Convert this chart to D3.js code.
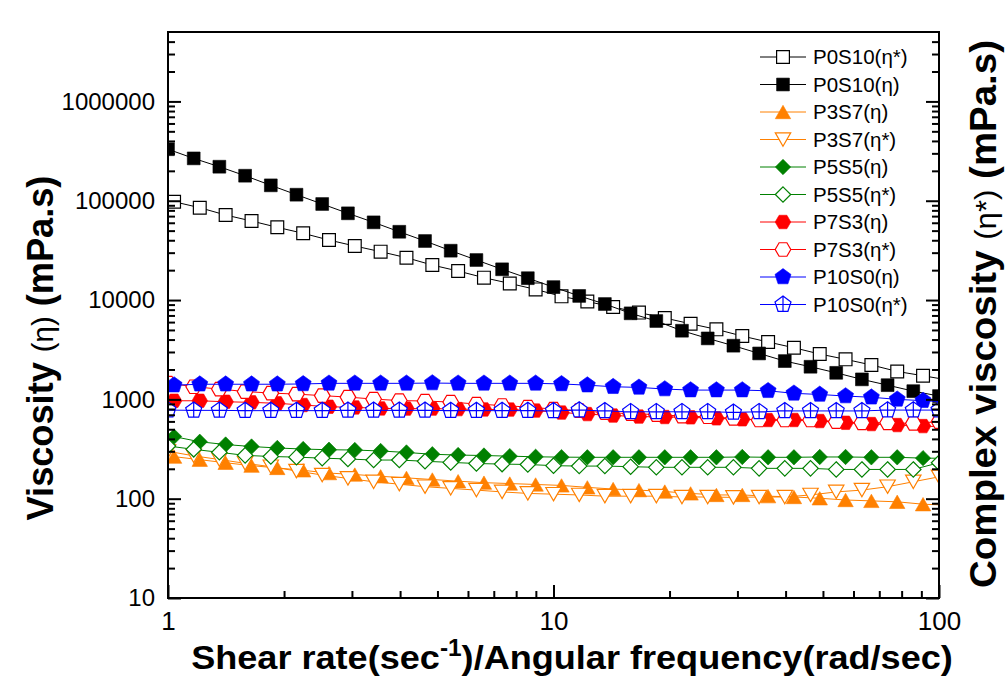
<!DOCTYPE html>
<html>
<head>
<meta charset="utf-8">
<script src="https://cdn.jsdelivr.net/npm/d3@7"></script>
<style>
  html, body { margin: 0; padding: 0; background: #fff; }
  svg { display: block; font-family: Arial, "Liberation Sans", sans-serif; }
</style>
</head>
<body>
<svg id="chart" width="1005" height="676"></svg>
<script>
// rates (1/s or rad/s), two sweeps that are slightly offset
const rateA = [1, 1.166, 1.359, 1.585, 1.848, 2.154, 2.512, 2.929, 3.415, 3.981, 4.642, 5.412, 6.31, 7.356, 8.577,
  10, 11.66, 13.59, 15.85, 18.48, 21.54, 25.12, 29.29, 34.15, 39.81, 46.42, 54.12, 63.1, 73.56, 85.77, 100];
const rateB = [1.037, 1.209, 1.411, 1.647, 1.921, 2.242, 2.616, 3.052, 3.561, 4.155, 4.849, 5.657, 6.601, 7.702, 8.987,
  10.49, 12.24, 14.28, 16.66, 19.44, 22.68, 26.46, 30.88, 36.03, 42.04, 49.05, 57.23, 66.77, 77.91, 90.91, 106.1];

// viscosities in mPa.s
const p0s10Star = [97700, 85100, 71800, 62500, 54000, 47000, 40200, 35000, 30700, 26700, 22500, 19600, 16800, 14700, 12800,
  10900, 9660, 8510, 7480, 6590, 5770, 5070, 4340, 3780, 3310, 2860, 2530, 2220, 1910, 1730, 1560];
const p0s10Eta = [330000, 267000, 220000, 178600, 142900, 115000, 92700, 74700, 60600, 48700, 39300, 31400, 25300, 20400, 16600,
  13500, 11000, 9120, 7350, 6150, 4910, 4110, 3470, 2900, 2430, 2130, 1850, 1590, 1390, 1210, 1080];
const p3s7Eta = [265, 247, 230, 215, 204, 193, 181, 175, 168, 162, 156, 150, 145, 142, 139,
  136, 130, 125, 122, 118, 113, 109, 109, 106, 104, 101, 97, 95, 93, 88, 86];
const p3s7Star = [300, 270, 248, 227, 210, 190, 173, 160, 148, 140, 132, 127, 122, 117, 113,
  111, 109, 106, 106, 106, 104, 104, 103, 104, 104, 109, 117, 122, 132, 148, 166];
const p5s5Eta = [422, 374, 351, 335, 324, 316, 311, 309, 302, 292, 280, 275, 272, 268, 264,
  262, 261, 261, 261, 261, 261, 261, 263, 261, 261, 263, 263, 261, 261, 256, 255];
const p5s5Star = [339, 314, 293, 273, 266, 262, 256, 251, 245, 245, 238, 232, 226, 223, 221,
  215, 213, 213, 210, 207, 207, 207, 207, 202, 202, 202, 197, 197, 197, 197, 230];
const p7s3Eta = [968, 968, 946, 933, 912, 877, 843, 830, 811, 807, 807, 798, 792, 789, 771,
  736, 711, 687, 671, 664, 659, 644, 630, 620, 620, 605, 581, 564, 551, 538, 528];
const p7s3Star = [1459, 1340, 1270, 1199, 1157, 1130, 1091, 1054, 1007, 973, 962, 940, 897, 867, 837,
  798, 771, 736, 719, 703, 679, 668, 644, 620, 620, 620, 596, 581, 581, 573, 596];
const p10s0Eta = [1390, 1420, 1420, 1420, 1420, 1430, 1450, 1450, 1450, 1450, 1460, 1450, 1450, 1450, 1450,
  1430, 1390, 1340, 1320, 1270, 1240, 1240, 1240, 1220, 1150, 1120, 1080, 1050, 1000, 970, 940];
const p10s0Star = [780, 775, 775, 770, 770, 770, 770, 775, 775, 775, 775, 770, 770, 770, 770,
  765, 780, 765, 750, 750, 750, 750, 740, 750, 765, 765, 765, 765, 780, 780, 780];

const xTicks = [1, 10, 100];
const yTicks = [10, 100, 1000, 10000, 100000, 1000000];

const series = [
  { name: "P0S10", kind: "η*", rate: rateB, vals: p0s10Star, color: "#000000", shape: "square", open: true },
  { name: "P0S10", kind: "η",  rate: rateA, vals: p0s10Eta,  color: "#000000", shape: "square", open: false },
  { name: "P3S7",  kind: "η",  rate: rateB, vals: p3s7Eta,   color: "#ff8000", shape: "triUp", open: false },
  { name: "P3S7",  kind: "η*", rate: rateA, vals: p3s7Star,  color: "#ff8000", shape: "triDown", open: true },
  { name: "P5S5",  kind: "η",  rate: rateB, vals: p5s5Eta,   color: "#008000", shape: "diamond", open: false },
  { name: "P5S5",  kind: "η*", rate: rateA, vals: p5s5Star,  color: "#008000", shape: "diamond", open: true },
  { name: "P7S3",  kind: "η",  rate: rateB, vals: p7s3Eta,   color: "#ff0000", shape: "hexagon", open: false },
  { name: "P7S3",  kind: "η*", rate: rateA, vals: p7s3Star,  color: "#ff0000", shape: "hexagon", open: true },
  { name: "P10S0", kind: "η",  rate: rateB, vals: p10s0Eta,  color: "#0000ff", shape: "pentagon", open: false },
  { name: "P10S0", kind: "η*", rate: rateA, vals: p10s0Star, color: "#0000ff", shape: "pentaPlus", open: true }
];

const svg = d3.select("#chart");
const plotL = 168, plotR = 939, plotT = 32, plotB = 598;

const x = d3.scaleLog().domain([1, 100]).range([plotL, plotR]);
const y = d3.scaleLog().domain([10, 5e6]).range([plotB, plotT]);

svg.append("rect").attr("width", 1005).attr("height", 676).attr("fill", "#fff");

// marker paths
function poly(pts) { return "M" + pts.map(p => p[0].toFixed(2) + "," + p[1].toFixed(2)).join("L") + "Z"; }
function shapePath(s) {
  if (s === "square") return poly([[-6.4, -6.4], [6.4, -6.4], [6.4, 6.4], [-6.4, 6.4]]);
  if (s === "triUp") return poly([[0, -6.7], [7.7, 6.7], [-7.7, 6.7]]);
  if (s === "triDown") return poly([[0, 6.7], [7.7, -6.7], [-7.7, -6.7]]);
  if (s === "diamond") return poly([[0, -7.7], [7.7, 0], [0, 7.7], [-7.7, 0]]);
  if (s === "hexagon") return poly(d3.range(6).map(i => [7.8 * Math.cos(i * Math.PI / 3), 7.8 * Math.sin(i * Math.PI / 3)]));
  const r = 8.4;
  const pent = poly(d3.range(5).map(i => {
    const a = -Math.PI / 2 + i * 2 * Math.PI / 5;
    return [r * Math.cos(a), r * Math.sin(a)];
  }));
  if (s === "pentagon") return pent;
  return pent + `M0,${-r}V${(r * 0.809).toFixed(2)}M${(-r * 0.851).toFixed(2)},0H${(r * 0.851).toFixed(2)}`;
}

function drawMarker(g, shape, open, color) {
  g.append("path")
    .attr("d", shapePath(shape))
    .attr("fill", open ? "#fff" : color)
    .attr("stroke", color)
    .attr("stroke-width", open ? 1.2 : 0.6);
}

svg.append("clipPath").attr("id", "plotClip")
  .append("rect").attr("x", plotL).attr("y", plotT).attr("width", plotR - plotL).attr("height", plotB - plotT);

const plot = svg.append("g").attr("clip-path", "url(#plotClip)");

const line = d3.line().x(d => x(d[0])).y(d => y(d[1]));

series.forEach(s => {
  const pts = s.vals.map((v, i) => [s.rate[i], v]);
  const g = plot.append("g");
  g.append("path")
    .attr("d", line(pts))
    .attr("fill", "none")
    .attr("stroke", s.color)
    .attr("stroke-width", 1);
  g.selectAll("g.pt")
    .data(pts)
    .join("g")
    .attr("class", "pt")
    .attr("transform", d => `translate(${x(d[0])},${y(d[1])})`)
    .each(function () { drawMarker(d3.select(this), s.shape, s.open, s.color); });
});

// axes
const xMinor = [];
[1, 10].forEach(d => { for (let m = 2; m <= 9; m++) xMinor.push(d * m); });
const yMinor = [];
yTicks.forEach(d => {
  for (let m = 2; m <= 9; m++) if (d * m < 5e6) yMinor.push(d * m);
});

function styleAxis(g) {
  g.select(".domain").remove();
  g.selectAll(".tick line").attr("stroke", "#000").attr("stroke-width", 2);
}

svg.append("g").attr("transform", `translate(${plotL},0)`)
  .call(d3.axisLeft(y).tickValues(yTicks).tickFormat(d3.format("d")).tickSize(-13).tickPadding(13))
  .call(styleAxis)
  .call(g => g.selectAll("text").attr("font-size", 24).attr("font-family", "Arial, 'Liberation Sans', sans-serif").attr("fill", "#000"));
svg.append("g").attr("transform", `translate(${plotL},0)`)
  .call(d3.axisLeft(y).tickValues(yMinor).tickFormat("").tickSize(-7))
  .call(styleAxis);

svg.append("g").attr("transform", `translate(${plotR},0)`)
  .call(d3.axisRight(y).tickValues(yTicks).tickFormat("").tickSize(-13))
  .call(styleAxis);
svg.append("g").attr("transform", `translate(${plotR},0)`)
  .call(d3.axisRight(y).tickValues(yMinor).tickFormat("").tickSize(-7))
  .call(styleAxis);

svg.append("g").attr("transform", `translate(0,${plotB})`)
  .call(d3.axisBottom(x).tickValues(xTicks).tickFormat(d3.format("d")).tickSize(-13).tickPadding(14))
  .call(styleAxis)
  .call(g => g.selectAll("text").attr("font-size", 26).attr("font-family", "Arial, 'Liberation Sans', sans-serif").attr("fill", "#000"));
svg.append("g").attr("transform", `translate(0,${plotB})`)
  .call(d3.axisBottom(x).tickValues(xMinor).tickFormat("").tickSize(-7))
  .call(styleAxis);

// frame
svg.append("rect")
  .attr("x", plotL).attr("y", plotT).attr("width", plotR - plotL).attr("height", plotB - plotT)
  .attr("fill", "none").attr("stroke", "#000").attr("stroke-width", 2);

// titles, stretched to the measured length
function fitTitle(t, length, tx, ty, rot) {
  const w = t.node().getComputedTextLength();
  t.attr("transform", `translate(${tx},${ty}) rotate(${rot}) scale(${length / w},1)`);
}

const xTitle = svg.append("text")
  .attr("text-anchor", "middle").attr("font-size", 34).attr("font-weight", "bold").attr("fill", "#000");
xTitle.append("tspan").text("Shear rate(sec");
xTitle.append("tspan").attr("font-size", 23).attr("dy", -13).text("-1");
xTitle.append("tspan").attr("dy", 13).text(")/Angular frequency(rad/sec)");
fitTitle(xTitle, 762, 572, 668.5, 0);

const yTitle = svg.append("text")
  .attr("text-anchor", "middle").attr("font-size", 37).attr("font-weight", "bold").attr("fill", "#000");
yTitle.append("tspan").text("Viscosity ");
yTitle.append("tspan").attr("font-weight", "normal").attr("font-size", 30).text("(η)");
yTitle.append("tspan").text(" (mPa.s)");
fitTitle(yTitle, 345, 53, 348, -90);

const y2Title = svg.append("text")
  .attr("text-anchor", "middle").attr("font-size", 37).attr("font-weight", "bold").attr("fill", "#000");
y2Title.append("tspan").text("Complex viscosity ");
y2Title.append("tspan").attr("font-weight", "normal").attr("font-size", 30).text("(η*)");
y2Title.append("tspan").text(" (mPa.s)");
fitTitle(y2Title, 548, 996, 314, -90);

// legend
const legend = svg.append("g").attr("transform", "translate(760,57)");
series.forEach((s, i) => {
  const row = legend.append("g").attr("transform", `translate(0,${i * 27.5})`);
  row.append("line").attr("x1", 0).attr("x2", 46).attr("y1", 0).attr("y2", 0)
    .attr("stroke", s.color).attr("stroke-width", 1);
  const m = row.append("g").attr("transform", "translate(23,0)");
  drawMarker(m, s.shape, s.open, s.color);
  row.append("text").attr("x", 53).attr("y", 7)
    .attr("font-size", 20.5).attr("fill", "#000")
    .text(`${s.name}(${s.kind})`);
});
</script>
</body>
</html>
